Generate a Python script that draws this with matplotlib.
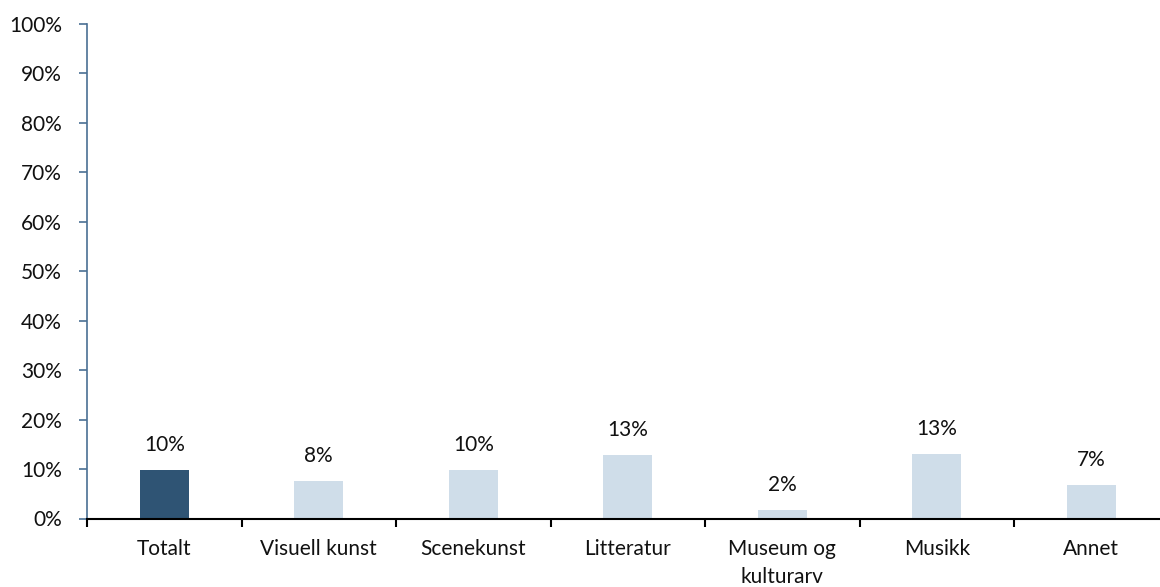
import matplotlib
matplotlib.use("Agg")
import matplotlib.pyplot as plt
from matplotlib.ticker import FixedLocator, PercentFormatter
import numpy as np

categories = ["Totalt", "Visuell kunst", "Scenekunst", "Litteratur",
              "Museum og\nkulturarv", "Musikk", "Annet"]
values = [9.8, 7.5, 9.8, 12.8, 1.7, 13.0, 6.8]
value_labels = ["10%", "8%", "10%", "13%", "2%", "13%", "7%"]
y_ticks = [0, 10, 20, 30, 40, 50, 60, 70, 80, 90, 100]

plt.rcParams['font.family'] = ['Lato', 'DejaVu Sans']
FS = 15

fig = plt.figure(figsize=(11.6, 5.87), dpi=100)
ax = fig.add_axes([87/1160, (587-518.5)/587, (1168.5-87)/1160, (518.5-24)/587])

x = np.arange(len(categories))
colors = ["#2F5474"] + ["#CFDDE9"] * (len(categories) - 1)
bars = ax.bar(x, values, width=0.315, color=colors, zorder=2)

for xi, v, lab in zip(x, values, value_labels):
    ax.annotate(lab, (xi, v), xytext=(0, 11), textcoords="offset points",
                ha="center", va="bottom", fontsize=FS, color="#111111")

ax.set_xlim(-0.5, len(categories) - 0.5)
ax.set_ylim(0, 100)
ax.set_yticks(y_ticks)
ax.yaxis.set_major_formatter(PercentFormatter(decimals=0))
ax.tick_params(axis="y", labelsize=FS, length=6, width=1.2, color="#4A6F94", pad=12, labelcolor="#111111")

ax.xaxis.set_major_locator(FixedLocator(np.arange(len(categories) + 1) - 0.5))
ax.xaxis.set_major_formatter(plt.NullFormatter())
ax.xaxis.set_minor_locator(FixedLocator(x))
labels = ax.set_xticklabels(categories, minor=True)
for t in labels:
    t.set_linespacing(1.45)
ax.tick_params(axis="x", which="major", length=6, width=1.5, color="black")
ax.tick_params(axis="x", which="minor", length=0, labelsize=FS, pad=15, labelcolor="#111111")

for s in ["top", "right"]:
    ax.spines[s].set_visible(False)
ax.spines["left"].set_color("#4A6F94")
ax.spines["left"].set_linewidth(1.2)
ax.spines["bottom"].set_color("black")
ax.spines["bottom"].set_linewidth(1.5)
ax.spines["bottom"].set_zorder(3)

fig.savefig("out.png", dpi=100)
